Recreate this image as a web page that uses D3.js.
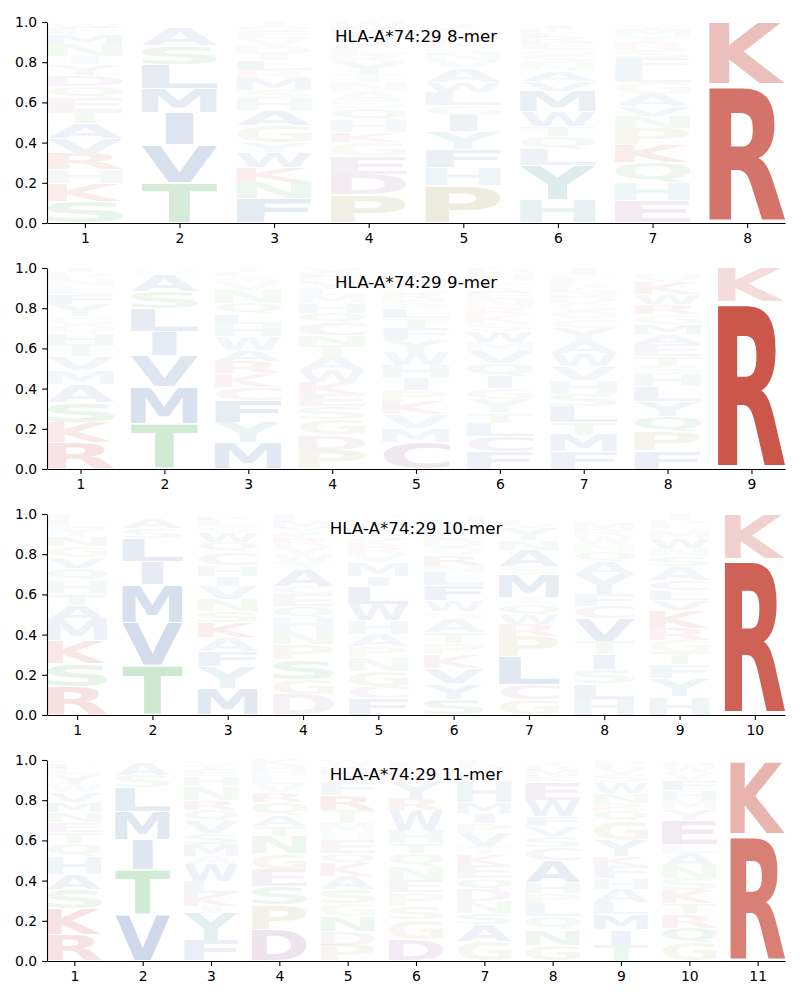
<!DOCTYPE html>
<html><head><meta charset="utf-8">
<script src="https://cdn.jsdelivr.net/npm/d3@7"></script>
<style>body{margin:0;background:#fff}</style>
</head><body>
<svg id="chart" width="800" height="1000"></svg>
<script>
const titles = ["HLA-A*74:29 8-mer", "HLA-A*74:29 9-mer", "HLA-A*74:29 10-mer", "HLA-A*74:29 11-mer"];
const yTicks = [0, 0.2, 0.4, 0.6, 0.8, 1.0];

// letters listed bottom -> top per position, with their probabilities
const letters8 = ["SKHRVATEQDYINMFWC", "TVIMLSAQN", "FNKWYGAHSMRLIDVEQT", "PDEGKHQSANTYRLVFMW",
  "PHFYIGLWAVNSKRMETQ", "HYLQTWMVANSGERFKID", "EHQKPNVAGLFSRTMYWD", "RK"];
const heights8 = [
  [0.105,0.09,0.07,0.08,0.075,0.075,0.06,0.065,0.06,0.055,0.055,0.04,0.06,0.05,0.03,0.02,0.01],
  [0.2,0.19,0.16,0.12,0.12,0.09,0.09,0.015,0.015],
  [0.12,0.08,0.075,0.075,0.05,0.085,0.075,0.06,0.04,0.06,0.04,0.05,0.03,0.04,0.04,0.03,0.03,0.02],
  [0.14,0.1,0.09,0.07,0.05,0.06,0.06,0.04,0.045,0.045,0.04,0.06,0.04,0.04,0.03,0.03,0.03,0.03],
  [0.185,0.09,0.09,0.09,0.08,0.05,0.065,0.05,0.07,0.04,0.03,0.03,0.03,0.03,0.02,0.02,0.02,0.01],
  [0.115,0.17,0.08,0.065,0.05,0.075,0.1,0.05,0.05,0.04,0.04,0.03,0.03,0.03,0.02,0.02,0.02,0.015],
  [0.11,0.09,0.1,0.09,0.08,0.06,0.05,0.06,0.06,0.06,0.06,0.04,0.04,0.03,0.03,0.02,0.01,0.01],
  [0.69,0.31]
];

const letters9 = ["RKSAMVTHQGYFLNEDI", "TMVILSAQN", "MYFCKRAWHLQNVSET", "PDGSEKWATNCQHMLYRFV",
  "CMVKPIHWYFTLSRGNQEDA", "FCLTYGIQVMWSKRNEAPHD", "FMTLSHVWAYCQGDNKREPI", "FPQYLHSTEAMGRWKVNDC", "RK"];
const heights9 = [
  [0.13,0.1,0.1,0.09,0.07,0.07,0.06,0.055,0.04,0.045,0.06,0.05,0.04,0.03,0.02,0.02,0.02],
  [0.225,0.185,0.155,0.12,0.115,0.085,0.08,0.02,0.015],
  [0.13,0.1,0.11,0.065,0.07,0.06,0.055,0.07,0.06,0.05,0.055,0.065,0.04,0.03,0.02,0.02],
  [0.095,0.075,0.075,0.065,0.06,0.06,0.06,0.065,0.06,0.05,0.06,0.05,0.05,0.04,0.03,0.03,0.03,0.025,0.02],
  [0.135,0.065,0.07,0.065,0.055,0.06,0.065,0.065,0.06,0.06,0.05,0.05,0.04,0.03,0.03,0.03,0.02,0.02,0.015,0.015],
  [0.085,0.075,0.07,0.05,0.065,0.055,0.06,0.065,0.06,0.045,0.055,0.04,0.04,0.04,0.04,0.03,0.03,0.03,0.04,0.025],
  [0.085,0.085,0.06,0.08,0.06,0.07,0.07,0.065,0.06,0.065,0.045,0.04,0.04,0.03,0.03,0.02,0.02,0.02,0.02,0.035],
  [0.09,0.095,0.075,0.075,0.075,0.06,0.04,0.05,0.06,0.05,0.05,0.05,0.05,0.05,0.06,0.02,0.02,0.015,0.015],
  [0.83,0.17]
];

const letters10 = ["RSKMATHQVGNYLEF", "TVMILSAQN", "MYFAKSNVIHCQWGLRE", "DGSPNHQECATWVRKYMLF",
  "FCGNPAHWLIMVRKSTEYDQ", "SYVKPTAGWFLNRQDEIMHC", "GCLPRWQTMSANYVEDK", "HLSITVCFYAQNWRMGKE",
  "HYFTGRKVLCASNWMQEDI", "RK"];
const heights10 = [
  [0.14,0.115,0.115,0.1,0.075,0.055,0.07,0.06,0.055,0.055,0.05,0.04,0.03,0.02,0.02],
  [0.245,0.215,0.19,0.115,0.115,0.05,0.05,0.01,0.01],
  [0.13,0.11,0.075,0.07,0.075,0.055,0.06,0.065,0.05,0.055,0.065,0.05,0.05,0.03,0.03,0.02,0.01],
  [0.1,0.075,0.1,0.075,0.065,0.065,0.06,0.06,0.04,0.08,0.04,0.04,0.04,0.03,0.03,0.03,0.03,0.02,0.02],
  [0.08,0.06,0.075,0.07,0.055,0.06,0.07,0.08,0.09,0.05,0.07,0.04,0.04,0.03,0.03,0.03,0.02,0.02,0.01,0.02],
  [0.08,0.075,0.075,0.07,0.055,0.055,0.07,0.035,0.055,0.075,0.065,0.035,0.05,0.04,0.04,0.03,0.03,0.03,0.02,0.015],
  [0.075,0.075,0.14,0.1,0.06,0.05,0.05,0.035,0.115,0.04,0.08,0.05,0.06,0.02,0.02,0.015,0.015],
  [0.08,0.075,0.07,0.075,0.065,0.115,0.06,0.06,0.1,0.06,0.05,0.04,0.04,0.03,0.03,0.02,0.015,0.015],
  [0.09,0.09,0.07,0.06,0.06,0.06,0.09,0.05,0.05,0.05,0.07,0.05,0.04,0.05,0.03,0.02,0.02,0.02,0.03],
  [0.775,0.225]
];

const letters11 = ["RKSAHQTENMVWYLFG", "VTIMLSAQN", "FYIKLWAMSVQRNHETG", "DPSEGNTAQRVLHMK",
  "PDNGSAKQEHMTRFYLVW", "DGSPENQTHWRYKALFV", "GASNDQEKTVPIMHLYRF", "GNQLPHACSVFWEKMRTY",
  "TIMLAHFKYGQRNWSVED", "GQRTKSNALEYMHFVWDP", "RK"];
const heights11 = [
  [0.13,0.13,0.095,0.075,0.09,0.065,0.055,0.05,0.05,0.05,0.05,0.04,0.05,0.03,0.02,0.02],
  [0.23,0.225,0.15,0.14,0.12,0.06,0.06,0.01,0.005],
  [0.1,0.14,0.03,0.065,0.06,0.085,0.04,0.06,0.055,0.06,0.055,0.05,0.07,0.05,0.03,0.03,0.02],
  [0.155,0.125,0.09,0.085,0.08,0.085,0.05,0.055,0.065,0.05,0.04,0.04,0.03,0.02,0.03],
  [0.08,0.065,0.075,0.065,0.07,0.065,0.065,0.05,0.065,0.04,0.045,0.065,0.075,0.065,0.04,0.03,0.02,0.02],
  [0.105,0.1,0.065,0.07,0.06,0.07,0.065,0.05,0.065,0.1,0.06,0.08,0.03,0.03,0.02,0.02,0.01],
  [0.095,0.085,0.055,0.06,0.06,0.055,0.065,0.055,0.04,0.065,0.05,0.05,0.055,0.1,0.04,0.03,0.02,0.02],
  [0.08,0.075,0.065,0.065,0.05,0.055,0.11,0.065,0.055,0.05,0.05,0.08,0.09,0.03,0.03,0.02,0.02,0.01],
  [0.08,0.075,0.075,0.06,0.065,0.055,0.06,0.05,0.08,0.095,0.05,0.04,0.05,0.055,0.04,0.03,0.02,0.02],
  [0.09,0.075,0.065,0.055,0.065,0.06,0.06,0.065,0.045,0.12,0.055,0.045,0.05,0.05,0.04,0.03,0.02,0.01],
  [0.63,0.37]
];

const panels = [
  {title: titles[0], letters: letters8, heights: heights8},
  {title: titles[1], letters: letters9, heights: heights9},
  {title: titles[2], letters: letters10, heights: heights10},
  {title: titles[3], letters: letters11, heights: heights11}
];

const groupColors = {
  hydrophobic: "#4a72ad", polar: "#4fae55", basic: "#c84d40",
  acidic: "#9a6a9a", special: "#ada664", aromatic: "#5b9da6"
};
const groupOf = {
  A:"hydrophobic", V:"hydrophobic", L:"hydrophobic", I:"hydrophobic", M:"hydrophobic", F:"hydrophobic", W:"hydrophobic",
  S:"polar", T:"polar", N:"polar", Q:"polar",
  K:"basic", R:"basic",
  D:"acidic", E:"acidic", C:"acidic",
  P:"special", G:"special",
  H:"aromatic", Y:"aromatic"
};
const alphaOf = p => Math.min(1, 1.13 * p + 0.005);

const svg = d3.select("#chart");
const FONT_PX = 100;
const FONT = "DejaVu Sans";
const canvas = document.createElement("canvas");
const ctx = canvas.getContext("2d");
ctx.font = `bold ${FONT_PX}px "${FONT}"`;
const inkCache = {};
function ink(ch) {
  if (!inkCache[ch]) {
    const m = ctx.measureText(ch);
    inkCache[ch] = {left: -m.actualBoundingBoxLeft, right: m.actualBoundingBoxRight,
                    top: -m.actualBoundingBoxAscent, bottom: m.actualBoundingBoxDescent};
  }
  return inkCache[ch];
}
const ref = ink("E");
const refW = ref.right - ref.left;

const axLeft = 47, axWidth = 738, axHeight = 201;
const tops = [22, 268, 514, 760];
const tickLen = 4.9;

panels.forEach((p, i) => {
  const n = p.letters.length;
  const g = svg.append("g").attr("transform", `translate(${axLeft},${tops[i]})`);
  const x = d3.scaleLinear().domain([0.6, n + 0.4]).range([0, axWidth]);
  const y = d3.scaleLinear().domain([0, 1]).range([axHeight, 0]);

  const lg = g.append("g");
  p.letters.forEach((str, j) => {
    const pos = j + 1;
    let cum = 0;
    [...str].forEach((ch, k) => {
      const h = p.heights[j][k];
      const y0 = cum, y1 = cum + h;
      cum = y1;
      const pad = 0.025 * h;
      const top = y(y1 - pad), bot = y(y0 + pad);
      const fullW = x(pos + 0.4) - x(pos - 0.4);
      const b = ink(ch);
      const iw = b.right - b.left, ih = b.bottom - b.top;
      const sx = Math.min(fullW / iw, fullW / refW);
      const w = iw * sx;
      const sy = (bot - top) / ih;
      lg.append("text")
        .text(ch)
        .attr("font-family", FONT)
        .attr("font-weight", "bold")
        .attr("font-size", FONT_PX)
        .attr("fill", groupColors[groupOf[ch]])
        .attr("fill-opacity", alphaOf(h))
        .attr("transform", `translate(${x(pos) - w / 2},${top}) scale(${sx},${sy}) translate(${-b.left},${-b.top})`);
    });
  });

  const yAxis = d3.axisLeft(y).tickValues(yTicks).tickFormat(d3.format(".1f"))
    .tickSize(tickLen).tickSizeOuter(0).tickPadding(4.9);
  const xAxis = d3.axisBottom(x).tickValues(d3.range(1, n + 1)).tickFormat(d3.format("d"))
    .tickSize(tickLen).tickSizeOuter(0).tickPadding(4.9);

  const ya = g.append("g").call(yAxis);
  const xa = g.append("g").attr("transform", `translate(0,${axHeight})`).call(xAxis);
  [ya, xa].forEach(a => {
    a.selectAll("text").attr("font-family", FONT).attr("font-size", 13.9).attr("fill", "#000");
    a.selectAll("line").attr("stroke", "#000").attr("stroke-width", 1.1);
    a.select(".domain").attr("stroke", "#000").attr("stroke-width", 1.1);
  });

  g.append("text")
    .attr("x", axWidth / 2)
    .attr("y", 20)
    .attr("text-anchor", "middle")
    .attr("font-family", FONT)
    .attr("font-size", 16.7)
    .attr("fill", "#000")
    .text(p.title);
});
</script>
</body></html>
